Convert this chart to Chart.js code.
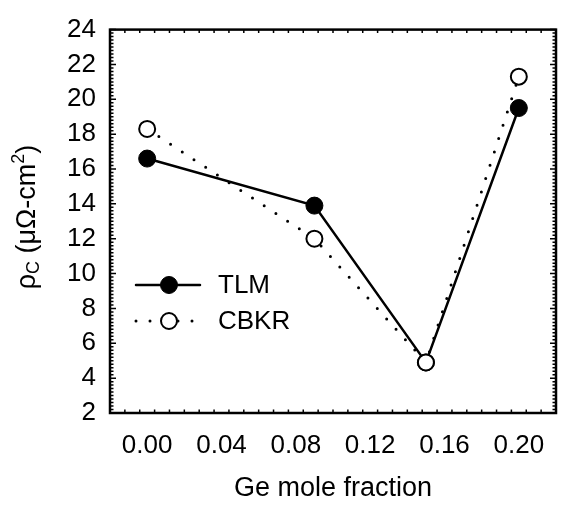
<html>
  <head>
    <title>Contact resistivity vs Ge fraction</title>
    <style>
      body { margin: 0; background: #fff; }
    </style>
  </head>
  <body>
    <canvas id="chart" width="566" height="505"></canvas>

    <script src="https://cdn.jsdelivr.net/npm/chart.js@4"></script>
    <script type="text/javascript">
      // values
      const geFraction = [0.0, 0.09, 0.15, 0.2];
      const tlm = [16.6, 13.9, 4.9, 19.5];
      const cbkr = [18.3, 12.0, 4.9, 21.3];
      const xTicks = [0.0, 0.04, 0.08, 0.12, 0.16, 0.2];
      const yTicks = [2, 4, 6, 8, 10, 12, 14, 16, 18, 20, 22, 24];

      const font = 'Liberation Sans, Arial, sans-serif';

      // ticks pointing into the plot on all four sides, plus the frame
      const frame = {
        id: 'frame',
        afterDatasetsDraw(chart) {
          const { ctx, chartArea: a, scales } = chart;
          const x = scales.x, y = scales.y;
          ctx.save();
          ctx.strokeStyle = '#000';
          ctx.lineWidth = 1.5;
          ctx.beginPath();
          for (let i = 0; i <= 30; i++) {
            const v = -0.02 + i * 0.008;
            const px = x.getPixelForValue(v);
            const major = xTicks.some((t) => Math.abs(t - v) < 1e-6);
            const len = major ? 6 : 3.5;
            ctx.moveTo(px, a.bottom); ctx.lineTo(px, a.bottom - len);
            ctx.moveTo(px, a.top); ctx.lineTo(px, a.top + len);
          }
          for (let i = 0; i <= 110; i++) {
            const v = 2 + i * 0.2;
            const py = y.getPixelForValue(v);
            const major = i % 10 === 0;
            const len = major ? 6 : 3.5;
            ctx.moveTo(a.left, py); ctx.lineTo(a.left + len, py);
            ctx.moveTo(a.right, py); ctx.lineTo(a.right - len, py);
          }
          ctx.stroke();
          ctx.lineWidth = 2.5;
          ctx.strokeRect(a.left, a.top, a.right - a.left, a.bottom - a.top);

          // y axis title with subscript and superscript
          ctx.translate(28, 217);
          ctx.rotate(-Math.PI / 2);
          ctx.fillStyle = '#000';
          ctx.textBaseline = 'middle';
          const parts = [
            ['\u03C1', 27, 0],
            ['C', 18, 6],
            [' (\u03BC\u03A9-cm', 27, 0],
            ['2', 18, -9],
            [')', 27, 0],
          ];
          let w = 0;
          parts.forEach(([t, s]) => {
            ctx.font = s + 'px ' + font;
            w += ctx.measureText(t).width;
          });
          let cx = -w / 2;
          parts.forEach(([t, s, dy]) => {
            ctx.font = s + 'px ' + font;
            ctx.fillText(t, cx, dy);
            cx += ctx.measureText(t).width;
          });
          ctx.restore();
        },
      };

      // legend sitting inside the plot area
      const innerLegend = {
        id: 'innerLegend',
        afterDraw(chart) {
          const { ctx } = chart;
          const rows = [
            { label: 'TLM', y: 285, ds: chart.data.datasets[1] },
            { label: 'CBKR', y: 321, ds: chart.data.datasets[0] },
          ];
          ctx.save();
          rows.forEach((r) => {
            ctx.strokeStyle = '#000';
            ctx.lineWidth = r.ds.borderWidth;
            ctx.lineCap = 'round';
            ctx.setLineDash(r.ds.borderDash || []);
            ctx.beginPath();
            ctx.moveTo(136, r.y);
            ctx.lineTo(200, r.y);
            ctx.stroke();
            ctx.setLineDash([]);
            ctx.beginPath();
            ctx.arc(169, r.y, r.ds.pointRadius, 0, Math.PI * 2);
            ctx.fillStyle = r.ds.pointBackgroundColor;
            ctx.fill();
            ctx.lineWidth = r.ds.pointBorderWidth;
            ctx.stroke();
            ctx.fillStyle = '#000';
            ctx.font = '26px ' + font;
            ctx.textBaseline = 'middle';
            ctx.fillText(r.label, 218, r.y + 1);
          });
          ctx.restore();
        },
      };

      const toPoints = (ys) => geFraction.map((x, i) => ({ x, y: ys[i] }));

      new Chart(document.getElementById('chart'), {
        type: 'line',
        data: {
          datasets: [
            {
              label: 'CBKR',
              data: toPoints(cbkr),
              borderColor: '#000',
              borderWidth: 3,
              borderDash: [0, 14],
              borderCapStyle: 'round',
              pointRadius: 8,
              pointBorderWidth: 2,
              pointBackgroundColor: '#fff',
              pointBorderColor: '#000',
              order: 0,
            },
            {
              label: 'TLM',
              data: toPoints(tlm),
              borderColor: '#000',
              borderWidth: 2.5,
              pointRadius: 8.5,
              pointBorderWidth: 1,
              pointBackgroundColor: '#000',
              pointBorderColor: '#000',
              order: 1,
            },
          ],
        },
        options: {
          responsive: false,
          animation: false,
          layout: { padding: { left: 0, top: 21, right: 2, bottom: 0 } },
          plugins: { legend: { display: false }, tooltip: { enabled: false } },
          scales: {
            x: {
              type: 'linear',
              min: -0.02,
              max: 0.22,
              grid: { display: false, drawTicks: false },
              border: { display: false },
              afterFit: (s) => { s.height = 92; },
              afterBuildTicks: (s) => { s.ticks = xTicks.map((value) => ({ value })); },
              ticks: {
                padding: 17,
                color: '#000',
                font: { family: font, size: 26 },
                callback: (v) => v.toFixed(2),
              },
              title: {
                display: true,
                text: 'Ge mole fraction',
                color: '#000',
                font: { family: font, size: 27 },
                padding: { top: 0, bottom: 0 },
              },
            },
            y: {
              min: 2,
              max: 24,
              grid: { display: false, drawTicks: false },
              border: { display: false },
              afterFit: (s) => { s.width = 110; },
              afterBuildTicks: (s) => { s.ticks = yTicks.map((value) => ({ value })); },
              ticks: {
                padding: 14,
                color: '#000',
                font: { family: font, size: 26 },
              },
            },
          },
        },
        plugins: [frame, innerLegend],
      });
    </script>
  </body>
</html>
